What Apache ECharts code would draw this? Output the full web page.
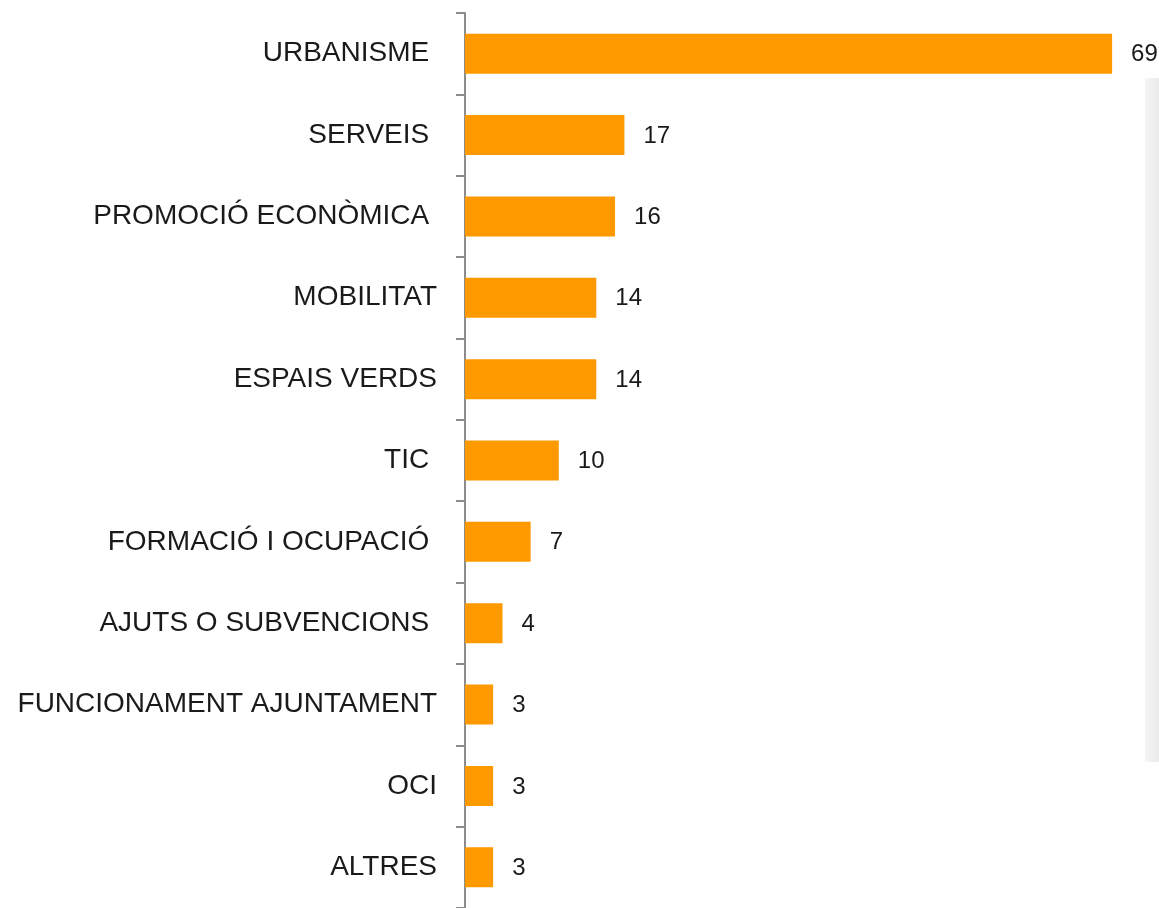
<!DOCTYPE html>
<html>
<head>
<meta charset="utf-8">
<script src="https://cdn.jsdelivr.net/npm/echarts@6/dist/echarts.min.js"></script>
<style>
  html, body { margin: 0; padding: 0; background: #fff; }
  #main { width: 1159px; height: 908px; }
</style>
</head>
<body>
<div id="main"></div>
<script>
// categories, top to bottom (trailing spaces as in the original labels)
const categories = [
  'URBANISME ',
  'SERVEIS ',
  'PROMOCIÓ ECONÒMICA ',
  'MOBILITAT',
  'ESPAIS VERDS',
  'TIC ',
  'FORMACIÓ I OCUPACIÓ ',
  'AJUTS O SUBVENCIONS ',
  'FUNCIONAMENT AJUNTAMENT',
  'OCI',
  'ALTRES'
];
const values = [69, 17, 16, 14, 14, 10, 7, 4, 3, 3, 3];
const xMax = 74;

const chart = echarts.init(document.getElementById('main'));

const option = {
  animation: false,
  backgroundColor: '#fff',
  grid: { left: 465, right: 0, top: 13, bottom: 0, containLabel: false },
  xAxis: {
    type: 'value',
    min: 0,
    max: xMax,
    show: false
  },
  yAxis: {
    type: 'category',
    data: categories,
    inverse: true,
    axisLine: { show: true, lineStyle: { color: '#8c8c8c', width: 2 } },
    axisTick: { show: true, length: 9, lineStyle: { color: '#8c8c8c', width: 2 } },
    axisLabel: {
      margin: 28,
      fontFamily: 'Liberation Sans',
      fontSize: 28,
      color: '#1a1a1a'
    }
  },
  series: [{
    type: 'bar',
    data: values,
    barWidth: 40,
    itemStyle: { color: '#FF9900' },
    label: {
      show: true,
      position: 'right',
      distance: 19,
      offset: [0, 1],
      fontFamily: 'Liberation Sans',
      fontSize: 24,
      color: '#1a1a1a'
    }
  }],
  // faint grey edge on the right, as in the source image
  graphic: [{
    type: 'rect',
    right: 0,
    top: 78,
    z: -1,
    shape: { width: 14, height: 684 },
    style: {
      fill: new echarts.graphic.LinearGradient(0, 0, 1, 0, [
        { offset: 0, color: '#f5f5f5' },
        { offset: 1, color: '#ebebeb' }
      ])
    }
  }]
};

chart.setOption(option);
</script>
</body>
</html>
